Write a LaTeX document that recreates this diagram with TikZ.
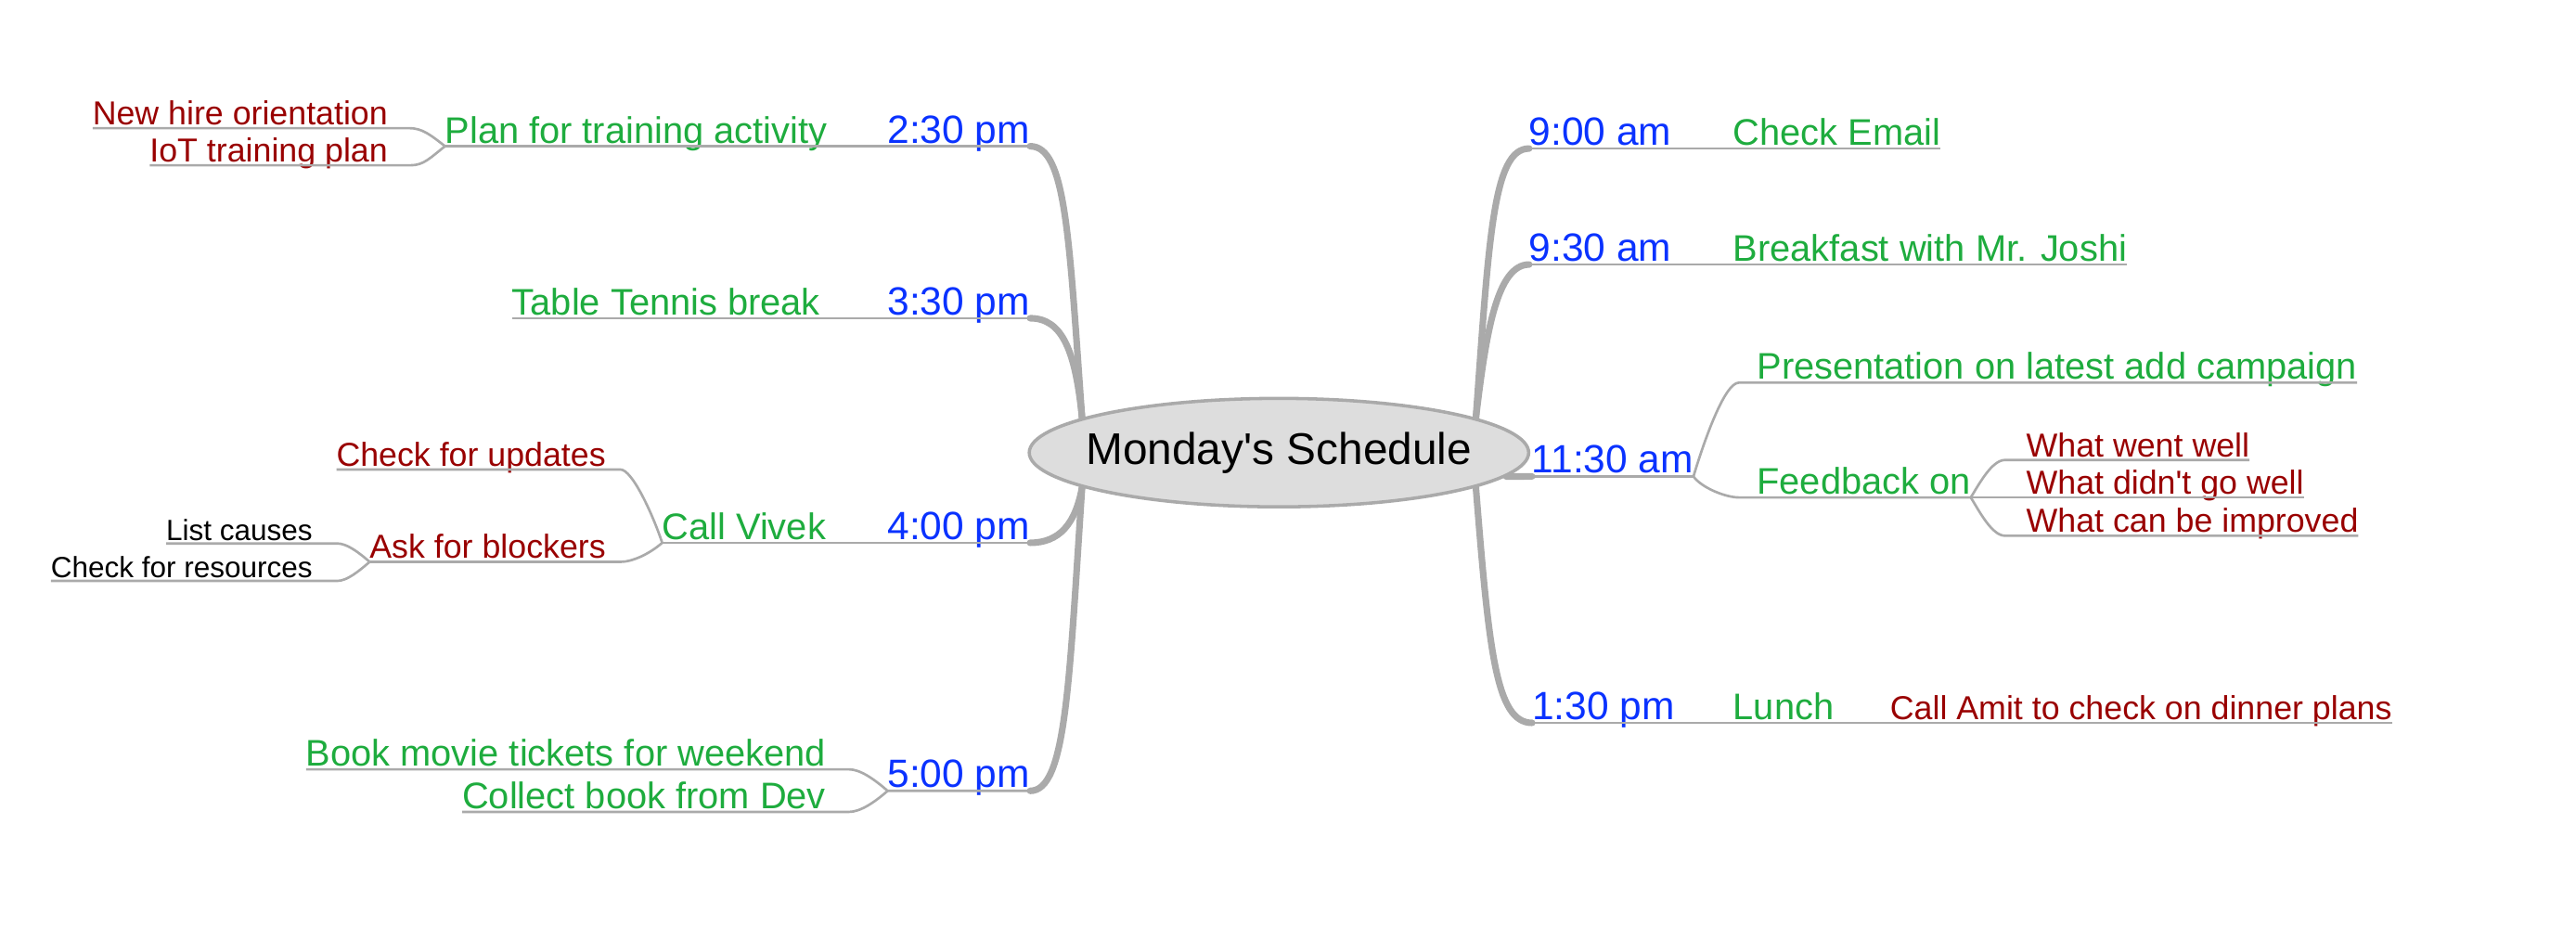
\documentclass[tikz,border=0pt]{standalone}
\usepackage{fontspec}
\setmainfont{Liberation Sans}[Ligatures=TeXOff]
\usetikzlibrary{calc,shapes.geometric,backgrounds}

\definecolor{timeblue}{RGB}{10,50,255}
\definecolor{taskgreen}{RGB}{30,172,62}
\definecolor{notered}{RGB}{153,0,0}
\definecolor{linegray}{RGB}{170,170,170}
\definecolor{bubble}{RGB}{221,221,221}

\begin{document}
\begin{tikzpicture}[x=0.5pt,y=-0.5pt,
  lbl/.style={inner xsep=0pt,inner ysep=1pt,outer sep=0pt,text depth=0pt},
  timelbl/.style={lbl,text=timeblue,font=\fontsize{12}{14}\selectfont},
  tasklbl/.style={lbl,text=taskgreen,font=\fontsize{11.25}{13}\selectfont},
  notelbl/.style={lbl,text=notered,font=\fontsize{10.1}{12}\selectfont},
  sublbl/.style={lbl,text=black,font=\fontsize{8.9}{11}\selectfont},
  trunk/.style={draw=linegray,line width=2pt,line cap=round},
  twig/.style={draw=linegray,line width=0.75pt}]
  \useasboundingbox (0,0) rectangle (1568,564);

  \node[ellipse,draw=linegray,fill=bubble,line width=1pt,inner xsep=-5pt,inner ysep=0pt,
    minimum width=152pt,minimum height=33pt,font=\fontsize{13.5}{16}\selectfont]
    (title) at (778.5,275.5) {Monday's Schedule};

  % left side
  \node[timelbl,anchor=south east] (t230) at (627,89) {2:30 pm};
  \node[tasklbl,anchor=south east] (train) at (503.5,89) {Plan for training activity};
  \node[notelbl,anchor=south east] (orient) at (236,78) {New hire orientation};
  \node[notelbl,anchor=south east] (iotplan) at (236,100.6) {IoT training plan};
  \node[timelbl,anchor=south east] (t330) at (627,193.7) {3:30 pm};
  \node[tasklbl,anchor=south east] (tennis) at (499.3,193.7) {Table Tennis break};
  \node[timelbl,anchor=south east] (t400) at (627,330.4) {4:00 pm};
  \node[tasklbl,anchor=south east] (vivek) at (502.7,330.4) {Call Vivek};
  \node[notelbl,anchor=south east] (updates) at (368.7,285.8) {Check for updates};
  \node[notelbl,anchor=south east] (blockers) at (368.7,342) {Ask for blockers};
  \node[sublbl,anchor=south east] (causes) at (190.2,330.8) {List causes};
  \node[sublbl,anchor=south east] (resources) at (190.2,353.6) {Check for resources};
  \node[timelbl,anchor=south east] (t500) at (627,481.4) {5:00 pm};
  \node[tasklbl,anchor=south east] (movie) at (502.7,468.3) {Book movie tickets for weekend};
  \node[tasklbl,anchor=south east] (book) at (502.7,494.2) {Collect book from Dev};

  % right side
  \node[timelbl,anchor=south west] (t900) at (930.8,90.4) {9:00 am};
  \node[tasklbl,anchor=south west] (email) at (1055,90.4) {Check Email};
  \node[timelbl,anchor=south west] (t930) at (930.8,161) {9:30 am};
  \node[tasklbl,anchor=south west] (joshi) at (1055,161) {Breakfast with Mr. Joshi};
  \node[timelbl,anchor=south west] (t1130) at (932.5,290) {11:30 am};
  \node[tasklbl,anchor=south west] (campaign) at (1069.5,232.9) {Presentation on latest add campaign};
  \node[tasklbl,anchor=south west] (feedback) at (1069.5,302.8) {Feedback on};
  \node[notelbl,anchor=south west] (well) at (1233.4,280) {What went well};
  \node[notelbl,anchor=south west] (notwell) at (1233.4,302.8) {What didn't go well};
  \node[notelbl,anchor=south west] (improve) at (1233.4,326.1) {What can be improved};
  \node[timelbl,anchor=south west] (t130) at (932.6,440) {1:30 pm};
  \node[tasklbl,anchor=south west] (lunch) at (1055,440) {Lunch};
  \node[notelbl,anchor=south west] (amit) at (1150.5,440) {Call Amit to check on dinner plans};

  \begin{scope}[on background layer]
    \draw[trunk] (title.170) .. controls +(-8,-110) and +(22,0) .. (t230.south east);
    \draw[trunk] (title.170) .. controls +(-4,-40) and +(20,0) .. (t330.south east);
    \draw[trunk] (title.190) .. controls +(-4,22) and +(18,0) .. (t400.south east);
    \draw[trunk] (title.190) .. controls +(-8,120) and +(22,0) .. (t500.south east);
    \draw[trunk] (title.10) .. controls +(8,-110) and +(-22,0) .. (t900.south west);
    \draw[trunk] (title.10) .. controls +(6,-50) and +(-20,0) .. (t930.south west);
    \draw[trunk] (title.-6) -- (t1130.south west);
    \draw[trunk] (title.-10) .. controls +(8,100) and +(-22,0) .. (t130.south west);
  \end{scope}

  % underlines and twigs
  \draw[twig] (train.south west) -- (t230.south east);
  \draw[twig] (orient.south west) -- ($(orient.south east)+(13,0)$) .. controls +(8,0) and +(-9,-7) .. (train.south west);
  \draw[twig] (iotplan.south west) -- ($(iotplan.south east)+(14,0)$) .. controls +(8,0) and +(-9,7) .. (train.south west);
  \draw[twig] (tennis.south west) -- (t330.south east);
  \draw[twig] (vivek.south west) -- (t400.south east);
  \draw[twig] (updates.south west) -- ($(updates.south east)+(9,0)$) .. controls +(7,0) and +(-6,-18) .. (vivek.south west);
  \draw[twig] (blockers.south west) -- ($(blockers.south east)+(9,0)$) .. controls +(7,0) and +(-8,7) .. (vivek.south west);
  \draw[twig] (causes.south west) -- ($(causes.south east)+(15,0)$) .. controls +(6,0) and +(-7,-6) .. (blockers.south west);
  \draw[twig] (resources.south west) -- ($(resources.south east)+(15,0)$) .. controls +(6,0) and +(-7,6) .. (blockers.south west);
  \draw[twig] (movie.south west) -- ($(movie.south east)+(14,0)$) .. controls +(7,0) and +(-8,-7) .. (t500.south west) -- (t500.south east);
  \draw[twig] (book.south west) -- ($(book.south east)+(14,0)$) .. controls +(7,0) and +(-8,7) .. (t500.south west);

  \draw[twig] (t900.south west) -- (email.south east);
  \draw[twig] (t930.south west) -- (joshi.south east);
  \draw[twig] (t1130.south west) -- (t1130.south east) .. controls +(6,-20) and +(-9,0) .. ($(campaign.south west)+(-11,0)$) -- (campaign.south east);
  \draw[twig] (t1130.south east) .. controls +(5,7) and +(-8,0) .. ($(feedback.south west)+(-11,0)$) -- (feedback.south east);
  \draw[twig] (feedback.south east) .. controls +(5,-8) and +(-8,0) .. ($(well.south west)+(-13,0)$) -- (well.south east);
  \draw[twig] (feedback.south east) -- (notwell.south east);
  \draw[twig] (feedback.south east) .. controls +(5,8) and +(-8,0) .. ($(improve.south west)+(-13,0)$) -- (improve.south east);
  \draw[twig] (t130.south west) -- (amit.south east);
\end{tikzpicture}
\end{document}
